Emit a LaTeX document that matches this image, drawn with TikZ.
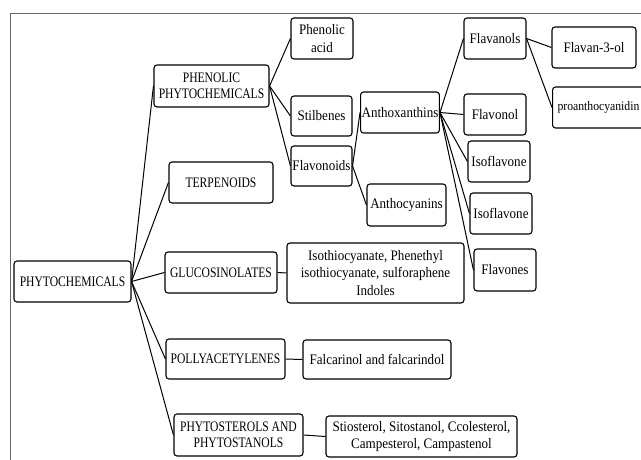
\documentclass[tikz,border=0pt]{standalone}
\usepackage{fontspec}
\setmainfont{Liberation Serif}[FakeStretch=0.9]
\newfontfamily\capsf{Liberation Serif}[FakeStretch=0.8]
\begin{document}
\begin{tikzpicture}[x=1pt,y=-1pt,
  box/.style={draw=black,line width=1.1pt,rounded corners=3pt,align=center,inner sep=1pt,
    font=\fontsize{14.5}{17.5}\selectfont,fill=white},
  capbox/.style={box,font=\capsf\fontsize{14.5}{16}\selectfont},
  conn/.style={line width=1pt,black}]
\useasboundingbox (0,0) rectangle (641,460);
\clip (0,0) rectangle (641,460);
\draw[gray!80!black,line width=0.9pt] (10,13) rectangle (660,480);
\node[capbox,minimum width=117pt,minimum height=41pt] (phyto) at (72.5,281.5) {PHYTOCHEMICALS};
\node[capbox,minimum width=115pt,minimum height=42pt] (phen) at (211.5,86) {PHENOLIC\\PHYTOCHEMICALS};
\node[capbox,minimum width=104pt,minimum height=41pt] (terp) at (221,182.5) {TERPENOIDS};
\node[capbox,minimum width=112pt,minimum height=41pt] (gluc) at (221,272.5) {GLUCOSINOLATES};
\node[capbox,minimum width=119pt,minimum height=40pt] (poly) at (225.5,359) {POLLYACETYLENES};
\node[capbox,minimum width=129pt,minimum height=42pt] (ster) at (238.5,435) {PHYTOSTEROLS AND\\PHYTOSTANOLS};
\node[box,minimum width=62pt,minimum height=41pt] (pacid) at (322,38.5) {Phenolic\\acid};
\node[box,minimum width=61pt,minimum height=40pt] (stil) at (321.5,116) {Stilbenes};
\node[box,minimum width=61pt,minimum height=40pt] (flavd) at (321.5,166) {Flavonoids};
\node[box,minimum width=74pt,minimum height=41pt] (anthox) at (400,112.5) {Anthoxanthins};
\node[box,minimum width=79pt,minimum height=42pt] (anthoc) at (406.5,205) {Anthocyanins};
\node[box,minimum width=62pt,minimum height=41pt] (flavnls) at (495,38.5) {Flavanols};
\node[box,minimum width=62pt,minimum height=41pt] (flavnl) at (495,114.5) {Flavonol};
\node[box,minimum width=62pt,minimum height=41pt] (iso1) at (499,161.5) {Isoflavone};
\node[box,minimum width=62pt,minimum height=41pt] (iso2) at (501,213.5) {Isoflavone};
\node[box,minimum width=62pt,minimum height=42pt] (flvns) at (505,270) {Flavones};
\node[box,minimum width=84pt,minimum height=41pt] (f3ol) at (594,47.5) {Flavan-3-ol};
\node[box,anchor=west,font=\fontsize{13}{16}\selectfont,text width=89pt,align=left,inner xsep=5pt,minimum height=41pt] (proan) at (552,107.5) {proanthocyanidin};
\node[box,minimum width=177pt,minimum height=60pt] (glucp) at (375.5,273) {Isothiocyanate, Phenethyl\\isothiocyanate, sulforaphene\\Indoles};
\node[box,minimum width=148pt,minimum height=39pt] (falc) at (377,359.5) {Falcarinol and falcarindol};
\node[box,minimum width=191pt,minimum height=41pt] (stio) at (421.5,436.5) {Stiosterol, Sitostanol, Ccolesterol,\\Campesterol, Campastenol};
\foreach \c in {phen,terp,gluc,poly,ster} \draw[conn] (phyto.east) -- (\c.west);
\foreach \c in {pacid,stil,flavd} \draw[conn] (phen.east) -- (\c.west);
\foreach \c in {anthox,anthoc} \draw[conn] (flavd.east) -- (\c.west);
\foreach \c in {flavnls,flavnl,iso1,iso2,flvns} \draw[conn] (anthox.east) -- (\c.west);
\foreach \c in {f3ol,proan} \draw[conn] (flavnls.east) -- (\c.west);
\draw[conn] (gluc.east) -- (glucp.west);
\draw[conn] (poly.east) -- (falc.west);
\draw[conn] (ster.east) -- (stio.west);
\end{tikzpicture}
\end{document}
